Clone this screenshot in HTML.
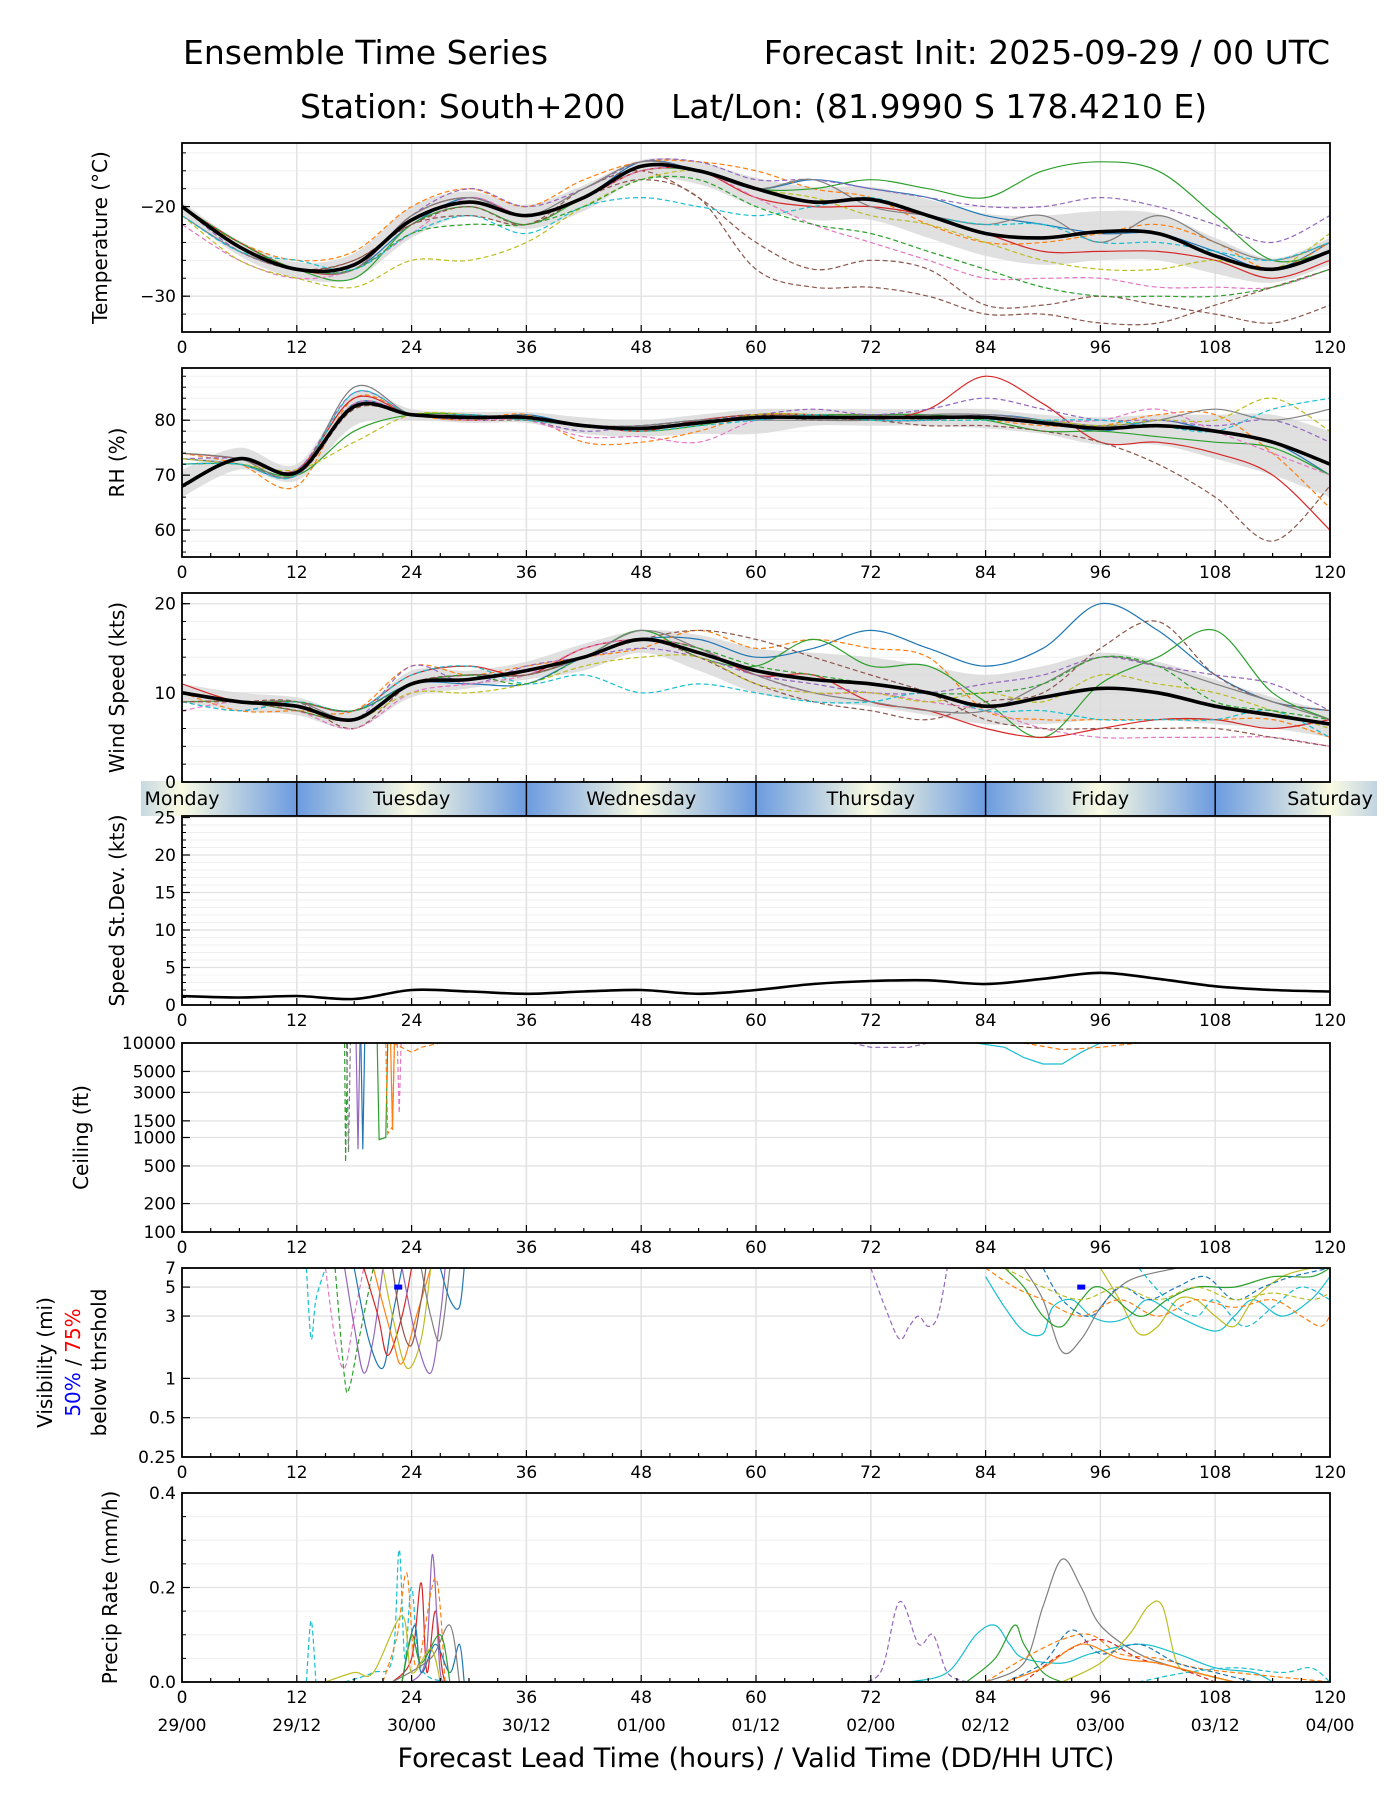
<!DOCTYPE html>
<html><head><meta charset="utf-8"><style>
body{margin:0;background:#fff}
svg{display:block;font-family:"DejaVu Sans","Liberation Sans",sans-serif}
</style></head><body>
<svg id="chart" width="1400" height="1800" viewBox="0 0 1400 1800" xmlns="http://www.w3.org/2000/svg">
<defs>
<linearGradient id="dayGrad" x1="0" x2="1" y1="0" y2="0">
<stop offset="0" stop-color="#6b9be0"/><stop offset="0.5" stop-color="#fbfbe2"/><stop offset="1" stop-color="#6b9be0"/>
</linearGradient>
</defs>
<text x="183" y="64" font-size="33">Ensemble Time Series</text>
<text x="1330" y="64" font-size="33" text-anchor="end">Forecast Init: 2025-09-29 / 00 UTC</text>
<text x="300" y="118" font-size="33">Station: South+200</text>
<text x="671" y="118" font-size="33">Lat/Lon: (81.9990 S 178.4210 E)</text>
<text x="756" y="1767" font-size="27" text-anchor="middle">Forecast Lead Time (hours) / Valid Time (DD/HH UTC)</text>
<g id="layer"></g>
</svg>
<script>
// ---------- data ----------
const hours6 = [0,6,12,18,24,30,36,42,48,54,60,66,72,78,84,90,96,102,108,114,120];
const colors = ["#1f77b4","#ff7f0e","#2ca02c","#d62728","#9467bd","#8c564b","#e377c2","#7f7f7f","#bcbd22","#17becf","#8c564b","#2ca02c"];
const tempMean = [-20,-24.5,-27,-26.5,-21.5,-19.5,-21,-19,-15.5,-16,-18,-19.5,-19.2,-21,-23,-23.5,-22.8,-23,-25.5,-27,-25];
const tempLo = [-20.8,-25.5,-28,-28,-23.5,-21,-22.5,-20.5,-17,-17.5,-20,-21.5,-21.5,-23.5,-25.5,-26.5,-26,-26,-27.5,-28.5,-26.5];
const tempHi = [-19.5,-23.8,-26.2,-25.2,-20,-18.3,-19.8,-17.6,-14.8,-15,-16.8,-17.8,-17.8,-19.2,-20.8,-21,-20.5,-20.8,-23.5,-25.8,-23.5];
const tempMembers = [
 [-20,-24,-27,-27,-22,-19,-21,-19,-15,-16,-18,-17,-18,-19,-21,-22,-23,-23,-25,-27,-24],
 [-20,-24,-26,-25,-20,-18,-20,-17,-15,-15,-16,-18,-19,-22,-24,-24,-23,-22,-24,-27,-24],
 [-20,-24,-27,-28,-22,-20,-22,-19,-16,-16,-18,-18,-17,-18,-19,-16,-15,-16,-21,-26,-25],
 [-20,-24,-27,-27,-21,-19,-21,-19,-16,-16,-19,-20,-20,-21,-23,-25,-25,-25,-26,-28,-26],
 [-20,-25,-27,-27,-21,-18,-20,-18,-15,-15,-17,-17,-18,-19,-20,-20,-19,-20,-22,-24,-21],
 [-21,-25,-27,-26,-22,-20,-22,-18,-16,-19,-24,-27,-26,-27,-31,-31,-30,-31,-32,-33,-31],
 [-22,-26,-28,-27,-23,-19,-21,-19,-16,-16,-19,-22,-24,-26,-28,-28,-28,-29,-29,-29,-27],
 [-21,-25,-27,-27,-21,-19,-21,-18,-15,-16,-18,-17,-20,-21,-22,-21,-24,-21,-24,-26,-24],
 [-21,-26,-28,-29,-26,-26,-24,-20,-17,-16,-18,-19,-21,-22,-24,-26,-27,-27,-26,-27,-23],
 [-21,-25,-26,-27,-23,-21,-23,-20,-19,-20,-21,-20,-19,-21,-22,-22,-24,-24,-25,-26,-24],
 [-20,-24,-27,-26,-22,-21,-22,-19,-17,-19,-27,-29,-29,-30,-32,-32,-33,-33,-31,-29,-27],
 [-20,-24,-27,-27,-23,-22,-22,-20,-17,-17,-20,-22,-23,-25,-27,-29,-30,-30,-30,-29,-27]
];
const memberDash = [false,true,false,false,true,true,true,false,true,true,true,true];
const rhMean = [68,73,70.5,82.5,81,80.5,80.5,79,78.5,79.5,80.5,80.5,80.5,80.5,80.5,79.5,78.5,79,78,76,72];
const rhLo = [66,71,69,79,80,79.5,79.5,77.5,77,77.5,77.5,79,79,79,78.5,77.5,75.5,75.5,73,70,66];
const rhHi = [71,75,72,85,82,81.5,81.5,80.5,80,81,82,82,82,82,82,81,80.5,81,81,81,78];
const rhMembers = [
 [73,72,70,83,81,80,81,79,79,80,80,81,80,80,81,80,78,80,78,76,70],
 [74,72,68,84,81,80,81,76,76,78,81,81,81,80,80,79,79,81,81,74,64],
 [72,72,70,78,81,81,80,79,78,79,81,81,81,81,80,78,78,77,76,75,70],
 [74,73,71,84,81,81,80,79,78,80,81,81,80,82,88,83,76,76,74,70,60],
 [73,73,71,85,81,81,80,78,79,80,81,82,81,82,84,82,80,80,79,80,76],
 [72,72,70,82,81,80,80,79,79,80,81,80,80,79,79,78,76,72,66,58,68],
 [73,72,70,83,81,80,80,77,77,76,80,81,80,80,81,80,80,82,78,74,70],
 [74,73,70,86,81,81,80,79,79,80,80,80,80,81,81,80,79,80,82,80,82],
 [73,72,71,76,81,81,80,79,78,79,81,81,80,80,80,80,79,80,80,84,78],
 [72,72,70,85,81,81,80,79,78,79,80,81,80,80,80,80,80,79,78,82,84]
];
const windMean = [10,9,8.5,7,11,11.5,12.5,14,16,14.5,12.5,11.5,11,10,8.5,9.5,10.5,10,8.5,7.5,6.5];
const windLo = [9,8,7.5,6,9.5,10.5,11.5,12.5,14.5,12.5,10,9,8.5,7.5,6.5,6.5,7,7,6.5,6,5];
const windHi = [11,10,9.5,8,12.5,12.5,13.5,15.5,17,16.5,15,14.5,14,13,12,13,14.5,13.5,11.5,9.5,8];
const windMembers = [
 [10,9,9,8,11,11,11,14,16,16,14,15,17,15,13,15,20,17,12,9,8],
 [10,8,8,8,13,12,13,14,15,17,15,16,15,14,8,7,7,7,7,7,5],
 [9,9,8,7,11,12,12,14,17,14,13,16,13,13,9,5,11,14,17,10,7],
 [11,9,9,8,12,13,12,15,16,15,12,12,9,8,6,5,6,7,7,6,7],
 [9,8,9,7,13,11,13,14,15,14,12,11,10,10,11,12,14,13,12,11,8],
 [9,9,9,6,11,12,12,14,16,14,11,9,8,7,9,10,15,18,12,9,8],
 [8,9,8,6,10,11,12,15,16,15,12,10,10,9,8,6,5,5,5,5,4],
 [10,9,9,7,11,12,12,14,17,15,12,10,9,8,8,11,14,13,11,9,7],
 [9,9,8,7,10,10,11,13,14,14,11,10,10,9,10,9,12,11,10,8,6],
 [9,8,9,8,12,13,11,12,10,11,10,9,9,10,8,8,7,7,7,8,5],
 [9,9,8,7,11,12,12,14,16,17,16,14,12,10,7,6,6,6,6,5,4],
 [10,9,9,8,11,12,11,14,16,15,13,12,11,10,10,11,14,13,9,8,7]
];
const stdevMean = [1.2,1.0,1.2,0.8,2.0,1.8,1.5,1.8,2.0,1.5,2.0,2.8,3.2,3.3,2.8,3.5,4.3,3.5,2.5,2.0,1.8];
const ceilingMembers = [
 [[17,10000],[17.1,550],[17.3,10000]],
 [[17.2,10000],[17.4,700],[17.6,10000]],
 [[18.2,10000],[18.4,750],[18.6,10000]],
 [[18.7,10000],[18.9,750],[19.1,10000]],
 [[20.4,10000],[20.6,950],[21.3,1000],[21.5,10000]],
 [[21.3,10000],[21.5,1100],[22,1300],[22.2,10000]],
 [[22.5,10000],[22.7,1800],[22.9,10000]],
 [[21.8,10000],[22,1200],[22.2,10000]],
 [[22,10000],[24,8000],[25,9000],[27,10000]],
 [[83,10000],[86,9000],[88,7000],[90,6000],[92,6000],[94,8000],[96,10000]],
 [[70,10000],[72,9000],[76,9000],[78,10000]],
 [[88,10000],[92,8500],[96,9000],[100,10000]]
];
const ceilColors = ["#2ca02c","#7f7f7f","#9467bd","#1f77b4","#2ca02c","#ff7f0e","#e377c2","#ff7f0e","#ff7f0e","#17becf","#9467bd","#ff7f0e"];
const ceilDash = [true,true,false,false,false,true,true,false,true,false,true,true];
const visMembers = [
 [[13,7],[13.5,2],[14,4],[15,7]],
 [[15,7],[16,2],[17,1.2],[18,3],[19,7]],
 [[16,7],[17,1],[17.5,0.85],[18.5,2],[20,7]],
 [[17,7],[18,2.5],[19,1.1],[20,2],[21,7]],
 [[18,7],[19.5,2],[21,1.2],[22,3],[23,7]],
 [[19,7],[20.5,3],[21.5,1.5],[23,3],[24,7]],
 [[20,7],[22,2],[23,1.3],[24.5,3],[26,7]],
 [[21,7],[22,3],[23.5,1.2],[25,2],[26,7]],
 [[23,7],[24.5,2],[26,1.1],[27,3],[27.5,7]],
 [[25,7],[26,3],[27,2],[28,7]],
 [[27,7],[28,4],[29,3.5],[29.5,7]],
 [[22,7],[23,2.5],[24,1.8],[25,4],[25.5,7]],
 [[72,7],[73.5,3.5],[75,2],[76,2.5],[77,3],[78,2.5],[79,3],[80,7]],
 [[84,6],[86,3.5],[88,2.3],[90,2.2],[91,3.5],[93,4],[95,3],[97,2.7],[99,3],[101,4],[104,3],[108,2.3],[110,3],[112,4],[115,3],[118,4],[120,6]],
 [[88,7],[90,4],[92,1.6],[94,2],[96,3.5],[98,5],[100,6],[104,7]],
 [[96,7],[98,4],[100,2.2],[102,2.5],[104,4],[106,4],[108,3],[110,2.5],[112,4],[115,6],[118,7]],
 [[86,7],[88,5],[90,3],[92,2.5],[94,4],[96,5],[100,3],[103,4],[106,5],[110,5],[114,6],[118,6],[120,7]],
 [[84,7],[87,5],[90,4],[94,3],[98,4],[102,3],[106,4],[110,3.5],[114,4],[117,3],[119,2.5],[120,3]],
 [[90,7],[92,4],[95,3],[98,5],[101,4],[104,5],[107,6],[110,4],[113,5],[116,6],[120,7]],
 [[100,7],[103,4],[106,3],[108,4],[111,2.5],[114,3.5],[117,5],[120,4]],
 [[86,7],[90,5],[94,4],[98,5],[102,4],[106,5],[110,4],[114,4.5],[118,4],[120,4.5]]
];
const visColors = ["#17becf","#e377c2","#2ca02c","#9467bd","#1f77b4","#d62728","#ff7f0e","#bcbd22","#9467bd","#7f7f7f","#1f77b4","#8c564b","#9467bd","#17becf","#7f7f7f","#bcbd22","#2ca02c","#ff7f0e","#1f77b4","#17becf","#bcbd22"];
const visDash = [true,true,true,false,false,false,false,false,false,false,false,false,true,false,false,false,false,true,true,true,true];
const visMarkerHours = [22.6,94];
const visMarkerValue = 5;
const precipMembers = [
 [[13,0],[13.5,0.13],[14,0]],
 [[17,0],[20,0.02],[22,0.05],[22.7,0.28],[23.3,0.05],[24,0.2],[25,0.03],[28,0]],
 [[22,0],[24,0.05],[25,0.21],[25.6,0.02],[26.5,0.15],[27.5,0],[30,0]],
 [[24,0],[25.5,0.05],[26.2,0.27],[27,0.02],[28,0]],
 [[21,0],[22.5,0.1],[23.5,0.23],[24.5,0.03],[26.5,0.22],[27.5,0]],
 [[23,0],[24.3,0.12],[25,0.02],[26.5,0.08],[28,0.02],[29,0.08],[29.5,0]],
 [[22,0],[26,0.05],[28,0.12],[29,0]],
 [[23,0],[24,0.1],[25,0.04],[27,0.1],[28,0]],
 [[15,0],[18,0.02],[20,0.02],[23,0.14],[24,0.02],[26,0.07],[27,0]],
 [[70,0],[73,0.02],[75,0.17],[77,0.08],[78.5,0.1],[80,0.02],[82,0]],
 [[76,0],[80,0.02],[83,0.1],[85,0.12],[86.5,0.08],[88,0.05],[92,0.04],[95,0.06],[100,0.08],[104,0.06],[108,0.03],[112,0.02],[114,0]],
 [[84,0],[88,0.04],[90,0.16],[92,0.26],[94,0.2],[96,0.12],[100,0.06],[104,0.03],[108,0.01],[110,0]],
 [[92,0],[96,0.04],[99,0.1],[101,0.16],[102.5,0.16],[104,0.04],[106,0.02],[110,0]],
 [[82,0],[85,0.05],[87,0.12],[88,0.08],[90,0.02],[92,0]],
 [[84,0],[88,0.05],[92,0.09],[95,0.1],[98,0.06],[102,0.05],[106,0.03],[110,0.02],[115,0.01],[120,0]],
 [[86,0],[90,0.04],[93,0.11],[96,0.06],[100,0.08],[104,0.04],[108,0.02],[112,0]],
 [[100,0],[105,0.02],[110,0.03],[115,0.02],[118,0.03],[120,0]],
 [[88,0],[92,0.06],[96,0.09],[100,0.05],[104,0.03],[108,0]],
 [[86,0],[90,0.03],[94,0.08],[98,0.05],[102,0.04],[106,0.02],[110,0]]
];
const precipColors = ["#17becf","#17becf","#d62728","#9467bd","#ff7f0e","#1f77b4","#7f7f7f","#2ca02c","#bcbd22","#9467bd","#17becf","#7f7f7f","#bcbd22","#2ca02c","#ff7f0e","#1f77b4","#17becf","#d62728","#ff7f0e"];
const precipDash = [true,true,false,false,true,false,false,false,false,true,false,false,false,false,true,true,true,true,false];
const xTicks = [0,12,24,36,48,60,72,84,96,108,120];
const dateLabels = ["29/00","29/12","30/00","30/12","01/00","01/12","02/00","02/12","03/00","03/12","04/00"];
const dayNames = ["Monday","Tuesday","Wednesday","Thursday","Friday","Saturday"];
const dayCenters = [0,24,48,72,96,120];

// ---------- layout ----------
const NS="http://www.w3.org/2000/svg";
const L=182, R=1330, H=189;
const layer=document.getElementById('layer');
function X(h){return L+(R-L)*h/120;}
function mk(tag,attrs,parent){const e=document.createElementNS(NS,tag);for(const k in attrs)e.setAttribute(k,attrs[k]);(parent||layer).appendChild(e);return e;}
function smooth(pts){
  if(pts.length<2)return "";
  let d="M"+pts[0][0].toFixed(1)+","+pts[0][1].toFixed(1);
  for(let i=0;i<pts.length-1;i++){
    const p0=pts[i-1]||pts[i],p1=pts[i],p2=pts[i+1],p3=pts[i+2]||p2;
    const c1=[p1[0]+(p2[0]-p0[0])/6,p1[1]+(p2[1]-p0[1])/6];
    const c2=[p2[0]-(p3[0]-p1[0])/6,p2[1]-(p3[1]-p1[1])/6];
    d+="C"+c1[0].toFixed(1)+","+c1[1].toFixed(1)+" "+c2[0].toFixed(1)+","+c2[1].toFixed(1)+" "+p2[0].toFixed(1)+","+p2[1].toFixed(1);
  }
  return d;
}
function linY(top,lo,hi){return v=>top+H*(hi-v)/(hi-lo);}
function logY(top,lo,hi){return v=>top+H*(Math.log(hi)-Math.log(v))/(Math.log(hi)-Math.log(lo));}

// ---------- day bar (drawn first so y tick labels stay on top) ----------
const dayBar=mk('g',{});


const barL=141,barR=1377,barT=781,barB=816;
const bcp=mk('clipPath',{id:'clip-bar'},dayBar);
mk('rect',{x:barL,y:barT,width:barR-barL,height:barB-barT},bcp);
const bg=mk('g',{'clip-path':'url(#clip-bar)'},dayBar);
dayCenters.forEach(c=>mk('rect',{x:X(c-12),y:barT,width:X(c+12)-X(c-12),height:barB-barT,fill:'url(#dayGrad)'},bg));
[12,36,60,84,108].forEach(h=>mk('line',{x1:X(h),x2:X(h),y1:barT,y2:barB,stroke:'#000','stroke-width':1.5},dayBar));
dayNames.forEach((n,i)=>{const t=mk('text',{x:X(dayCenters[i]),y:barT+24,'font-size':19,'text-anchor':'middle'},dayBar);t.textContent=n;
  
  });

const panels={};
function panel(key,top,yf,ticks,labels,minor,title,tx,showX){
  const g=mk('g',{});
  
  
  const cp=mk('clipPath',{id:'clip-'+key},g);
  mk('rect',{x:L,y:top,width:R-L,height:H},cp);
  minor.forEach(v=>{const y=yf(v);if(y>=top&&y<=top+H)mk('line',{x1:L,x2:R,y1:y,y2:y,stroke:'#f0f0f0','stroke-width':1},g);});
  ticks.forEach(v=>{const y=yf(v);mk('line',{x1:L,x2:R,y1:y,y2:y,stroke:'#e2e2e2','stroke-width':1.3},g);});
  xTicks.forEach(h=>mk('line',{x1:X(h),x2:X(h),y1:top,y2:top+H,stroke:'#e2e2e2','stroke-width':1.5},g));
  const data=mk('g',{'clip-path':'url(#clip-'+key+')'},g);
  
  
  const ax=mk('g',{},g);
  for(let h=0;h<=120;h+=3){const big=h%12==0;mk('line',{x1:X(h),x2:X(h),y1:top+H,y2:top+H-(big?7:4),stroke:'#000','stroke-width':1.2},ax);}
  ticks.forEach((v,i)=>{const y=yf(v);mk('line',{x1:L,x2:L+8,y1:y,y2:y,stroke:'#000','stroke-width':1.2},ax);
    const t=mk('text',{x:L-6,y:y+6,'font-size':17,'text-anchor':'end'},ax);t.textContent=labels[i];
    
    });
  minor.forEach(v=>{const y=yf(v);if(y>=top&&y<=top+H)mk('line',{x1:L,x2:L+4,y1:y,y2:y,stroke:'#000','stroke-width':1},ax);});
  if(showX!==false){xTicks.forEach(h=>{const t=mk('text',{x:X(h),y:top+H+21,'font-size':17,'text-anchor':'middle'},ax);t.textContent=h;
    
    });}
  mk('rect',{x:L,y:top,width:R-L,height:H,fill:'none',stroke:'#000','stroke-width':1.8},g);
  if(title){title.forEach((ln,i)=>{
    const t=mk('text',{transform:`translate(${tx[i]},${top+H/2}) rotate(-90)`,'font-size':20,'text-anchor':'middle'},g);
    if(Array.isArray(ln)){ln.forEach(s=>{const ts=mk('tspan',{fill:s[1]},t);ts.textContent=s[0];});}else t.textContent=ln;
    
    
  });}
  panels[key]={g:data,yf,top};
  return data;
}
function range(a,b,s){const r=[];for(let v=a;v<=b+1e-9;v+=s)r.push(+v.toFixed(3));return r;}

// ---------- panels ----------
const tY=linY(143,-34,-12.9);
panel('temp',143,tY,[-20,-30],['\u221220','\u221230'],range(-34,-12,2),['Temperature (\u00b0C)'],[107]);
const rY=linY(368,55.1,89.5);
panel('rh',368,rY,[60,70,80],['60','70','80'],range(56,88,2),['RH (%)'],[124]);
const wY=linY(593,0,21.2);
panel('wind',593,wY,[0,10,20],['0','10','20'],range(0,21,2),['Wind Speed (kts)'],[124],false);
const sY=linY(816,0,25.2);
panel('stdev',816,sY,[0,5,10,15,20,25],['0','5','10','15','20','25'],range(0,25,1),['Speed St.Dev. (kts)'],[124]);
const cY=logY(1043,100,10000);
panel('ceiling',1043,cY,[10000,5000,3000,1500,1000,500,200,100],['10000','5000','3000','1500','1000','500','200','100'],[],['Ceiling (ft)'],[88]);
const vY=logY(1268,0.25,7);
panel('vis',1268,vY,[7,5,3,1,0.5,0.25],['7','5','3','1','0.5','0.25'],[],['Visibility (mi)',[['50%','#0000ff'],[' / ','#000'],['75%','#ff0000']],'below thrshold'],[52,80,106]);
const pY=linY(1493,0,0.4);
panel('precip',1493,pY,[0,0.2,0.4],['0.0','0.2','0.4'],range(0,0.4,0.05),['Precip Rate (mm/h)'],[117]);

// ---------- series drawing ----------
function drawLine(key,hs,vals,color,dash,w,name){
  const p=panels[key];
  const pts=hs.map((h,i)=>[X(h),p.yf(vals[i])]);
  const e=mk('path',{d:smooth(pts),fill:'none',stroke:color,'stroke-width':w,'stroke-dasharray':dash?'5,3':'none','stroke-linejoin':'round'},p.g);
  
  
}
function drawBand(key,lo,hi){
  const p=panels[key];
  const up=hours6.map((h,i)=>[X(h),p.yf(hi[i])]);
  const dn=hours6.map((h,i)=>[X(h),p.yf(lo[i])]).reverse();
  const d=smooth(up)+"L"+smooth(dn).slice(1)+"Z";
  const e=mk('path',{d:d,fill:'#d8d8d8',opacity:0.8},p.g);
  
  
}
function drawPairs(key,pairs,color,dash,w,straight,name){
  const p=panels[key];
  const pts=pairs.map(q=>[X(q[0]),p.yf(q[1])]);
  const d=straight?("M"+pts.map(q=>q[0].toFixed(1)+","+q[1].toFixed(1)).join("L")):smooth(pts);
  const e=mk('path',{d:d,fill:'none',stroke:color,'stroke-width':w,'stroke-dasharray':dash?'5,3':'none'},p.g);
  
  
}
drawBand('temp',tempLo,tempHi);
tempMembers.forEach((m,i)=>drawLine('temp',hours6,m,colors[i%colors.length],memberDash[i],1.2,'temp-member'));
drawLine('temp',hours6,tempMean,'#000',false,3.6,'temp-ensemble-mean');
drawBand('rh',rhLo,rhHi);
rhMembers.forEach((m,i)=>drawLine('rh',hours6,m,colors[i%colors.length],memberDash[i],1.2,'rh-member'));
drawLine('rh',hours6,rhMean,'#000',false,3.6,'rh-ensemble-mean');
drawBand('wind',windLo,windHi);
windMembers.forEach((m,i)=>drawLine('wind',hours6,m,colors[i%colors.length],memberDash[i],1.2,'wind-member'));
drawLine('wind',hours6,windMean,'#000',false,3.6,'wind-ensemble-mean');
drawLine('stdev',hours6,stdevMean,'#000',false,2.6,'speed-stdev-line');
ceilingMembers.forEach((m,i)=>drawPairs('ceiling',m,ceilColors[i],ceilDash[i],1.2,true,'ceiling-member'));
visMembers.forEach((m,i)=>drawPairs('vis',m,visColors[i],visDash[i],1.2,false,'visibility-member'));
visMarkerHours.forEach(h=>{
  const e=mk('line',{x1:X(h)-4,x2:X(h)+4,y1:vY(visMarkerValue),y2:vY(visMarkerValue),stroke:'#0000ff','stroke-width':5},panels.vis.g);
  
  
});
precipMembers.forEach((m,i)=>drawPairs('precip',m,precipColors[i],precipDash[i],1.2,false,'precip-member'));

// ---------- date labels ----------
xTicks.forEach((h,i)=>{const t=mk('text',{x:X(h),y:1731,'font-size':17,'text-anchor':'middle'});t.textContent=dateLabels[i];
  
  });
</script>
</body></html>
